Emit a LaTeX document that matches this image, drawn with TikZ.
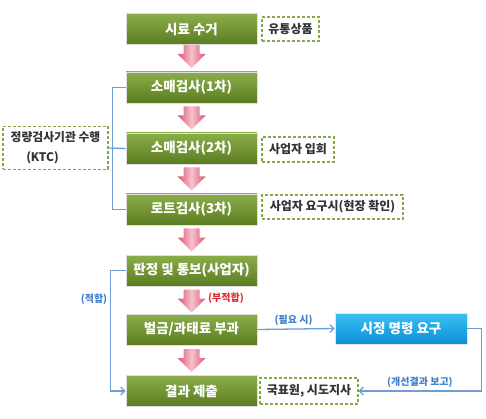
\documentclass[tikz,border=0pt]{standalone}
\usepackage{fontspec}
\setmainfont{Noto Sans CJK KR}
\usetikzlibrary{arrows.meta}
\definecolor{gtop}{HTML}{8BAE4A}
\definecolor{gbot}{HTML}{5A7C20}
\definecolor{dashg}{HTML}{84AA48}
\definecolor{btop}{HTML}{3CC0F4}
\definecolor{bbot}{HTML}{0A8FD5}
\definecolor{pinkL}{HTML}{F7C2CE}
\definecolor{pinkD}{HTML}{D8536F}
\definecolor{lineb}{HTML}{6D9CD8}
\definecolor{lblb}{HTML}{3F7FCC}
\definecolor{redl}{HTML}{E02A2A}
\definecolor{dtext}{HTML}{333333}
\tikzset{
  gbox/.style={draw=white!75!gray, line width=0.8pt, top color=gtop, bottom color=gbot,
    minimum width=131pt, minimum height=31pt, inner sep=0pt, text=white,
    font=\fontsize{13.5}{15}\selectfont\bfseries},
  bbox/.style={draw=white!80!gray, line width=0.8pt, top color=btop, bottom color=bbot,
    minimum width=132pt, minimum height=31pt, inner sep=0pt, text=white,
    font=\fontsize{13.5}{15}\selectfont\bfseries},
  dbox/.style={draw=dashg, dash pattern=on 3pt off 2pt, line width=1.1pt, fill=white,
    inner sep=0pt, text=dtext, font=\fontsize{12}{14}\selectfont\bfseries},
  bl/.style={draw=lineb, line width=1.3pt},
  blar/.style={bl, -{Straight Barb[length=4pt,width=8pt,line width=1.2pt]}},
  lbl/.style={text=lblb, font=\fontsize{10}{12}\selectfont\bfseries, inner sep=1pt},
  pinkar/.pic={
    \shade[left color=pinkD, right color=pinkD, middle color=pinkL]
      (-8,0) -- (8,0) -- (8,9) -- (14,9) -- (0,23) -- (-14,9) -- (-8,9) -- cycle;
  }
}
\begin{document}
\begin{tikzpicture}[x=1pt,y=-1pt]
\useasboundingbox (0,0) rectangle (486,419);
% green main boxes
\node[gbox] (b1) at (191.5,29) {시료 수거};
\node[gbox] (b2) at (191.5,87.5) {소매검사(1차)};
\node[gbox] (b3) at (191.5,148.5) {소매검사(2차)};
\node[gbox] (b4) at (191.5,209.5) {로트검사(3차)};
\node[gbox] (b5) at (191.5,270.5) {판정 및 통보(사업자)};
\node[gbox] (b6) at (191.5,329.5) {벌금/과태료 부과};
\node[gbox] (b7) at (191.5,391) {결과 제출};
% blue box
\node[bbox] (cmd) at (401,328.5) {시정 명령 요구};
% dashed boxes
\node[dbox, minimum width=57pt, minimum height=24pt] (yt) at (290.5,29) {유통상품};
\node[dbox, minimum width=72pt, minimum height=25pt] (ip) at (298,149.5) {사업자 입회};
\node[dbox, minimum width=141pt, minimum height=24pt] (yg) at (332.5,207) {사업자 요구시(현장 확인)};
\node[dbox, minimum width=98pt, minimum height=26pt] (kp) at (309,391) {국표원, 시도지사};
\node[dbox, minimum width=105pt, minimum height=43pt, align=center,
      font=\fontsize{11.8}{20}\selectfont\bfseries] (ktc) at (55.5,148) {정량검사기관 수행\\(KTC)\hspace*{26pt}};
% pink arrows
\pic at (191.5,45) {pinkar};
\pic at (191.5,106.5) {pinkar};
\pic at (191.5,167.5) {pinkar};
\pic at (191.5,228.5) {pinkar};
\pic at (191.5,289.5) {pinkar};
\pic at (191.5,349) {pinkar};
% bracket for KTC
\draw[bl] (b2.west) -- ++(-13,0) |- (b4.west);
\draw[bl] (ktc.east) -- (b3.west);
% flow connectors
\draw[blar] (b5.west) -- ++(-15,0) |- (b7.west);
\draw[blar] (b6.east) -- node[lbl, above=2pt, pos=0.47] (need) {(필요 시)} (cmd.west);
\draw[blar] (cmd.east) -- ++(14,0) |- node[lbl, above=2pt, pos=0.75] (rep) {(개선결과 보고)} (kp.east);
% labels
\node[lbl] (ok) at (94,299) {(적합)};
\node[lbl, text=redl] (nok) at (226,298) {(부적합)};
\end{tikzpicture}
\end{document}
